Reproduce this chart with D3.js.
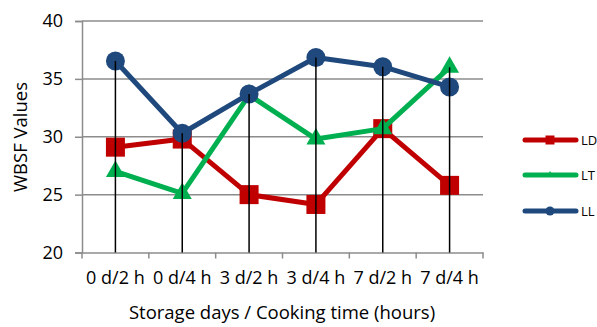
<!DOCTYPE html>
<html><head><meta charset="utf-8">
<script src="https://cdn.jsdelivr.net/npm/d3@7"></script>
<style>body{margin:0;background:#fff}svg{display:block}text{font-family:"Open Sans",sans-serif;fill:#000}</style>
</head><body><svg id="c" width="597" height="327"></svg>
<script>
const categories = ["0 d/2 h","0 d/4 h","3 d/2 h","3 d/4 h","7 d/2 h","7 d/4 h"];
const LD = [29.1, 29.8, 25.0, 24.15, 30.7, 25.8];
const LT = [27.0, 25.1, 33.6, 29.8, 30.7, 36.0];
const LL = [36.55, 30.3, 33.7, 36.85, 36.05, 34.3];
const yTicks = [20,25,30,35,40];
const series = [
  {name:"LD", values:LD, color:"#C00000", shape:"square"},
  {name:"LT", values:LT, color:"#00B050", shape:"triangle"},
  {name:"LL", values:LL, color:"#1F497D", shape:"circle"}
];
const svg = d3.select("#c");
const L=82, R=483, T=21, B=252.5;
const x = d3.scaleBand().domain(categories).range([L,R]);
const y = d3.scaleLinear().domain([20,40]).range([B,T]);
// gridlines
svg.append("g").selectAll("line").data(yTicks.slice(1)).join("line")
  .attr("x1",L).attr("x2",R).attr("y1",d=>y(d)).attr("y2",d=>y(d))
  .attr("stroke","#8c8c8c").attr("stroke-width",1.5);
// y axis
const ya = svg.append("g").attr("transform",`translate(${L},0)`)
  .call(d3.axisLeft(y).tickValues(yTicks).tickSize(7).tickPadding(12));
ya.select(".domain").attr("stroke","#8c8c8c").attr("stroke-width",1.5);
ya.selectAll(".tick line").attr("stroke","#8c8c8c").attr("stroke-width",1.5);
ya.selectAll("text").style("font-size","18px").attr("font-family","Open Sans");
// x axis
const xa = svg.append("g").attr("transform",`translate(0,${B})`)
  .call(d3.axisBottom(x).tickSize(0).tickPadding(19));
xa.select(".domain").attr("stroke","#8c8c8c").attr("stroke-width",1.5);
xa.selectAll("text").style("font-size","18px").attr("font-family","Open Sans");
const edges = categories.map(c=>x(c)).concat([R]);
svg.append("g").selectAll("line").data(edges).join("line")
  .attr("x1",d=>d).attr("x2",d=>d).attr("y1",B).attr("y2",B+6)
  .attr("stroke","#8c8c8c").attr("stroke-width",1.5);
const cx = c => x(c)+x.bandwidth()/2;
const line = d3.line().x((d,i)=>cx(categories[i])).y(d=>y(d));
function marker(g, shape, color, size){
  if(shape==="square") g.append("rect").attr("x",-size/2).attr("y",-size/2).attr("width",size).attr("height",size).attr("fill",color);
  else if(shape==="circle") g.append("circle").attr("r",size/2).attr("fill",color);
  else g.append("path").attr("d",d3.symbol(d3.symbolTriangle, 0.433*size*size)()).attr("fill",color);
}
series.forEach(s=>{
  svg.append("path").datum(s.values).attr("d",line).attr("fill","none")
    .attr("stroke",s.color).attr("stroke-width",5).attr("stroke-linejoin","round");
  s.values.forEach((v,i)=>{
    const g = svg.append("g").attr("transform",`translate(${cx(categories[i])},${y(v)})`);
    marker(g, s.shape, s.color, 19);
  });
});
// drop lines
categories.forEach((c,i)=>{
  const m = d3.max(series, s=>s.values[i]);
  svg.append("line").attr("x1",cx(c)).attr("x2",cx(c)).attr("y1",y(m)).attr("y2",B)
    .attr("stroke","#000").attr("stroke-width",1.5);
});
// axis titles
svg.append("text").attr("transform","translate(27,137) rotate(-90)").attr("text-anchor","middle")
  .style("font-size","18.5px").text("WBSF Values");
svg.append("text").attr("x",282).attr("y",319).attr("text-anchor","middle")
  .style("font-size","18.5px").text("Storage days / Cooking time (hours)");
// legend
const legY = [140,175,211];
series.forEach((s,i)=>{
  const g = svg.append("g").attr("transform",`translate(0,${legY[i]})`);
  g.append("line").attr("x1",525).attr("x2",576).attr("stroke",s.color).attr("stroke-width",5).attr("stroke-linecap","round");
  const mg = g.append("g").attr("transform","translate(550,0)");
  marker(mg, s.shape, s.color, s.shape==="triangle"?7:9);
  g.append("text").attr("x",581).attr("y",0).attr("dy","0.35em").style("font-size","13px").text(s.name);
});
</script></body></html>
